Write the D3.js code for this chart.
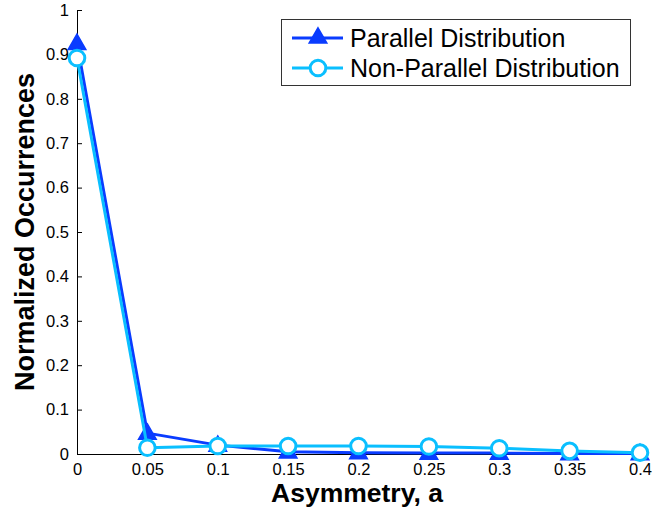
<!DOCTYPE html>
<html><head><meta charset="utf-8">
<script src="https://cdn.jsdelivr.net/npm/d3@7"></script>
<style>body{margin:0;background:#fff}svg{display:block}text{font-family:"Liberation Sans",Arial,sans-serif}</style>
</head><body><div id="chart"></div>
<script>
const xValues = [0, 0.05, 0.1, 0.15, 0.2, 0.25, 0.3, 0.35, 0.4];
const parallel = [0.925, 0.047, 0.02, 0.005, 0.003, 0.002, 0.002, 0.001, 0.001];
const nonParallel = [0.892, 0.014, 0.018, 0.018, 0.018, 0.017, 0.013, 0.007, 0.003];
const xTicks = [0, 0.05, 0.1, 0.15, 0.2, 0.25, 0.3, 0.35, 0.4];
const yTicks = [0, 0.1, 0.2, 0.3, 0.4, 0.5, 0.6, 0.7, 0.8, 0.9, 1];
const seriesNames = ["Parallel Distribution", "Non-Parallel Distribution"];
const colors = ["#0a3cff", "#0abfff"];

const W = 652, H = 514;
const svg = d3.select("#chart").append("svg").attr("width", W).attr("height", H);
const x = d3.scaleLinear().domain([0, 0.4]).range([77, 640]);
const y = d3.scaleLinear().domain([0, 1]).range([454, 10]);

// axes
const xAxis = d3.axisBottom(x).tickValues(xTicks).tickFormat(d => d3.format("")(+d.toFixed(2))).tickSizeInner(-5).tickSizeOuter(0).tickPadding(9);
const yAxis = d3.axisLeft(y).tickValues(yTicks).tickFormat(d => d3.format("")(+d.toFixed(1))).tickSizeInner(-5).tickSizeOuter(0).tickPadding(8);
const gx = svg.append("g").attr("transform", "translate(0,454)").call(xAxis);
const gy = svg.append("g").attr("transform", "translate(77,0)").call(yAxis);
[gx, gy].forEach(g => {
  g.selectAll("path.domain").attr("stroke", "#000").attr("stroke-width", 1);
  g.selectAll(".tick line").attr("stroke", "#000");
  g.selectAll("text").attr("font-size", 16.5).attr("fill", "#000").style("font-family", '"Liberation Sans",Arial,sans-serif');
});

const line = d3.line().x((d, i) => x(xValues[i])).y(d => y(d));
const tri = d3.symbol().type(d3.symbolTriangle).size(135);

// parallel series
svg.append("path").datum(parallel).attr("d", line).attr("fill", "none").attr("stroke", colors[0]).attr("stroke-width", 3).attr("stroke-linejoin", "round");
svg.append("g").selectAll("path").data(parallel).join("path")
  .attr("d", tri).attr("transform", (d, i) => `translate(${x(xValues[i])},${y(d) + 1})`)
  .attr("fill", colors[0]).attr("stroke", colors[0]).attr("stroke-width", 1.5);

// non-parallel series
svg.append("path").datum(nonParallel).attr("d", line).attr("fill", "none").attr("stroke", colors[1]).attr("stroke-width", 3).attr("stroke-linejoin", "round");
svg.append("g").selectAll("circle").data(nonParallel).join("circle")
  .attr("cx", (d, i) => x(xValues[i])).attr("cy", d => y(d)).attr("r", 7.8)
  .attr("fill", "#fff").attr("stroke", colors[1]).attr("stroke-width", 3);

// axis labels
svg.append("text").attr("x", 357).attr("y", 502).attr("text-anchor", "middle")
  .attr("font-size", 26.5).attr("font-weight", "bold").text("Asymmetry, a");
svg.append("text").attr("transform", "translate(34,232) rotate(-90)").attr("text-anchor", "middle")
  .attr("font-size", 27).attr("font-weight", "bold").text("Normalized Occurrences");

// legend
const lg = svg.append("g");
lg.append("rect").attr("x", 281.5).attr("y", 19.5).attr("width", 349).attr("height", 66)
  .attr("fill", "#fff").attr("stroke", "#333").attr("stroke-width", 1);
const rows = [38, 68];
rows.forEach((ry, i) => {
  lg.append("line").attr("x1", 292).attr("x2", 343).attr("y1", ry).attr("y2", ry)
    .attr("stroke", colors[i]).attr("stroke-width", 3);
  if (i === 0) {
    lg.append("path").attr("d", tri).attr("transform", `translate(318,${ry})`)
      .attr("fill", colors[0]).attr("stroke", colors[0]).attr("stroke-width", 1.5);
  } else {
    lg.append("circle").attr("cx", 318).attr("cy", ry).attr("r", 7.8)
      .attr("fill", "#fff").attr("stroke", colors[1]).attr("stroke-width", 3);
  }
  lg.append("text").attr("x", 350).attr("y", ry + 9).attr("font-size", 25).attr("fill", "#000").text(seriesNames[i]);
});
</script></body></html>
